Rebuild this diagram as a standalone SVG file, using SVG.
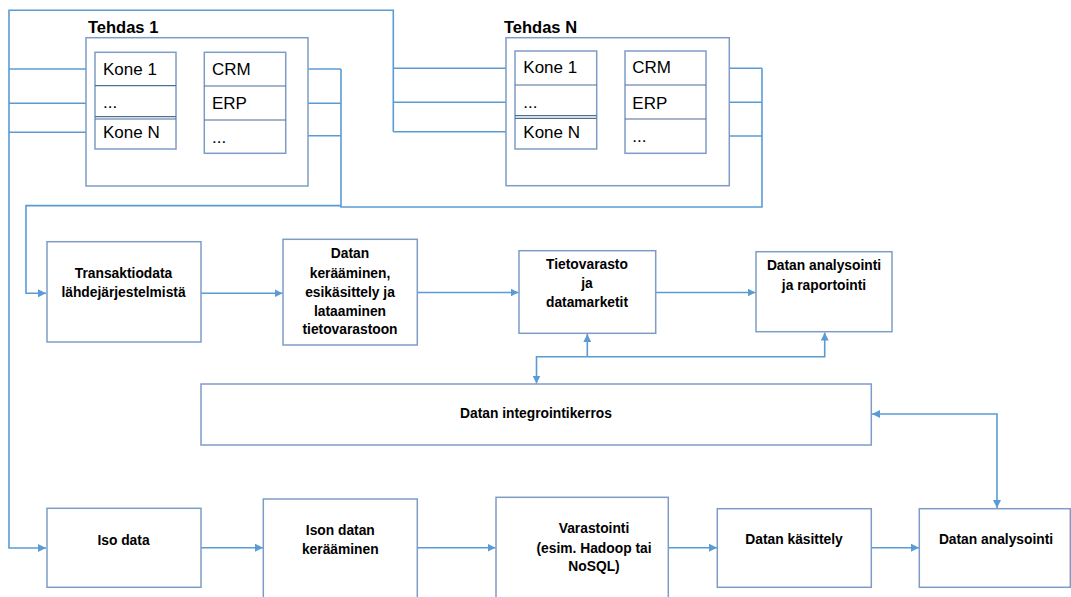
<svg xmlns="http://www.w3.org/2000/svg" width="1071" height="597" viewBox="0 0 1071 597">
  <style>
    .box { fill: #ffffff; stroke: #7f9cc6; stroke-width: 1.5; }
    .cell { fill: #ffffff; stroke: #7f9cc6; stroke-width: 1.5; }
    .div { stroke: #4f6f96; stroke-width: 1.2; }
    .conn { fill: none; stroke: #5b9bd5; stroke-width: 1.6; }
    .title { font-family: "Liberation Sans", Arial, sans-serif; font-weight: bold; font-size: 16.5px; fill: #000; }
    .item { font-family: "Liberation Sans", Arial, sans-serif; font-size: 17px; fill: #000; }
    .lbl { font-family: "Liberation Sans", Arial, sans-serif; font-weight: bold; font-size: 13.8px; fill: #000; text-anchor: middle; }
  </style>
  <defs>
    <marker id="arr" viewBox="0 0 8 8" refX="8" refY="4" markerWidth="8" markerHeight="8" markerUnits="userSpaceOnUse" orient="auto-start-reverse">
      <path d="M0,0 L8,4 L0,8 z" fill="#5b9bd5"/>
    </marker>
  </defs>
  <rect width="1071" height="597" fill="#ffffff"/>

  <!-- connectors -->
  <g id="connectors">
    <!-- machines of both factories feed the big data path -->
    <path class="conn" d="M95,69 H9"/>
    <path class="conn" d="M95,103.3 H9"/>
    <path class="conn" d="M95,132.3 H9"/>
    <path class="conn" d="M515,68.3 H393.3"/>
    <path class="conn" d="M515,102.3 H393.3"/>
    <path class="conn" d="M515,131.7 H393.3"/>
    <path class="conn" d="M393.3,131.7 V10.3 H9 V548 H46" marker-end="url(#arr)"/>
    <!-- business systems feed the transaction path -->
    <path class="conn" d="M286,69 H341"/>
    <path class="conn" d="M286,103.3 H341"/>
    <path class="conn" d="M286,135.7 H341"/>
    <path class="conn" d="M706,68.3 H762"/>
    <path class="conn" d="M706,102.3 H762"/>
    <path class="conn" d="M706,136 H762"/>
    <path class="conn" d="M341,69 V207 H762 V68.3"/>
    <path class="conn" d="M341,205.6 H26 V293.3 H46" marker-end="url(#arr)"/>
    <!-- transaction data flow -->
    <path class="conn" d="M201,293.3 H282.5" marker-end="url(#arr)"/>
    <path class="conn" d="M417.3,292.5 H518.5" marker-end="url(#arr)"/>
    <path class="conn" d="M655.7,292.5 H755.5" marker-end="url(#arr)"/>
    <!-- integration layer links -->
    <path class="conn" d="M536.5,383.5 V356.7 H824.7 V332.5" marker-start="url(#arr)" marker-end="url(#arr)"/>
    <path class="conn" d="M587.3,356.7 V334" marker-end="url(#arr)"/>
    <path class="conn" d="M997,508 V414 H872" marker-start="url(#arr)" marker-end="url(#arr)"/>
    <!-- big data flow -->
    <path class="conn" d="M201,547.7 H263" marker-end="url(#arr)"/>
    <path class="conn" d="M417.3,547.7 H495.5" marker-end="url(#arr)"/>
    <path class="conn" d="M668.3,547.7 H717" marker-end="url(#arr)"/>
    <path class="conn" d="M871.3,547.7 H919" marker-end="url(#arr)"/>
  </g>

  <!-- factory 1 -->
  <g id="tehdas1">
    <text class="title" x="88" y="33.3">Tehdas 1</text>
    <rect class="box" x="86" y="37.7" width="222" height="148.3"/>
    <rect class="cell" x="95" y="52.3" width="81" height="96.7"/>
    <line class="div" x1="95" y1="85.7" x2="176" y2="85.7"/>
    <line class="div" x1="95" y1="116.7" x2="176" y2="116.7"/>
    <line class="div" x1="95" y1="119" x2="176" y2="119"/>
    <text class="item" x="103" y="75">Kone 1</text>
    <text class="item" x="103" y="108.3">...</text>
    <text class="item" x="103" y="137.7">Kone N</text>
    <rect class="cell" x="204.3" y="52.3" width="81.4" height="101"/>
    <line class="div" x1="204.3" y1="86" x2="285.7" y2="86"/>
    <line class="div" x1="204.3" y1="120" x2="285.7" y2="120"/>
    <text class="item" x="212" y="75">CRM</text>
    <text class="item" x="212" y="109">ERP</text>
    <text class="item" x="212" y="142.7">...</text>
  </g>

  <!-- factory N -->
  <g id="tehdasN">
    <text class="title" x="504" y="33.3">Tehdas N</text>
    <rect class="box" x="506" y="37.7" width="223.3" height="148"/>
    <rect class="cell" x="515" y="51" width="81.7" height="98"/>
    <line class="div" x1="515" y1="85" x2="596.7" y2="85"/>
    <line class="div" x1="515" y1="115.7" x2="596.7" y2="115.7"/>
    <line class="div" x1="515" y1="118.3" x2="596.7" y2="118.3"/>
    <text class="item" x="523.3" y="73.3">Kone 1</text>
    <text class="item" x="523.3" y="108">...</text>
    <text class="item" x="523.3" y="137.7">Kone N</text>
    <rect class="cell" x="625" y="51" width="81" height="102.3"/>
    <line class="div" x1="625" y1="85" x2="706" y2="85"/>
    <line class="div" x1="625" y1="119" x2="706" y2="119"/>
    <text class="item" x="632.3" y="73.3">CRM</text>
    <text class="item" x="632.3" y="108.7">ERP</text>
    <text class="item" x="632.3" y="142.3">...</text>
  </g>

  <!-- transaction data path -->
  <g id="transaktiodata">
    <rect class="box" x="47" y="241.7" width="154" height="100.3"/>
    <text class="lbl" x="123.5" y="278.3">Transaktiodata</text>
    <text class="lbl" x="123.5" y="296.7">lähdejärjestelmistä</text>
  </g>
  <g id="keraaminen">
    <rect class="box" x="283" y="239.3" width="134.3" height="105.7"/>
    <text class="lbl" x="350" y="258.3">Datan</text>
    <text class="lbl" x="350" y="278.3">kerääminen,</text>
    <text class="lbl" x="350" y="296.7">esikäsittely ja</text>
    <text class="lbl" x="350" y="315.7">lataaminen</text>
    <text class="lbl" x="350" y="334.3">tietovarastoon</text>
  </g>
  <g id="tietovarasto">
    <rect class="box" x="519" y="250.7" width="136.7" height="82.6"/>
    <text class="lbl" x="587" y="269">Tietovarasto</text>
    <text class="lbl" x="587" y="288.3">ja</text>
    <text class="lbl" x="587" y="307.3">datamarketit</text>
  </g>
  <g id="raportointi">
    <rect class="box" x="756" y="251.7" width="136" height="80"/>
    <text class="lbl" x="824" y="270">Datan analysointi</text>
    <text class="lbl" x="824" y="289.5">ja raportointi</text>
  </g>

  <!-- integration layer -->
  <g id="integrointikerros">
    <rect class="box" x="201" y="384" width="670.3" height="61"/>
    <text class="lbl" x="536" y="418.3">Datan integrointikerros</text>
  </g>

  <!-- big data path -->
  <g id="isodata">
    <rect class="box" x="47" y="508.3" width="154" height="79"/>
    <text class="lbl" x="123.5" y="545">Iso data</text>
  </g>
  <g id="isonkeraaminen">
    <rect class="box" x="263.3" y="499" width="154" height="100"/>
    <text class="lbl" x="340.3" y="535">Ison datan</text>
    <text class="lbl" x="340.3" y="554">kerääminen</text>
  </g>
  <g id="varastointi">
    <rect class="box" x="496" y="497.3" width="172.3" height="102"/>
    <text class="lbl" x="594" y="533.3">Varastointi</text>
    <text class="lbl" x="594" y="552.7">(esim. Hadoop tai</text>
    <text class="lbl" x="594" y="570.7">NoSQL)</text>
  </g>
  <g id="kasittely">
    <rect class="box" x="717.3" y="508.7" width="154" height="78.6"/>
    <text class="lbl" x="794" y="544.3">Datan käsittely</text>
  </g>
  <g id="analysointi">
    <rect class="box" x="919.3" y="508.7" width="151" height="78.6"/>
    <text class="lbl" x="996" y="544.3">Datan analysointi</text>
  </g>
</svg>
